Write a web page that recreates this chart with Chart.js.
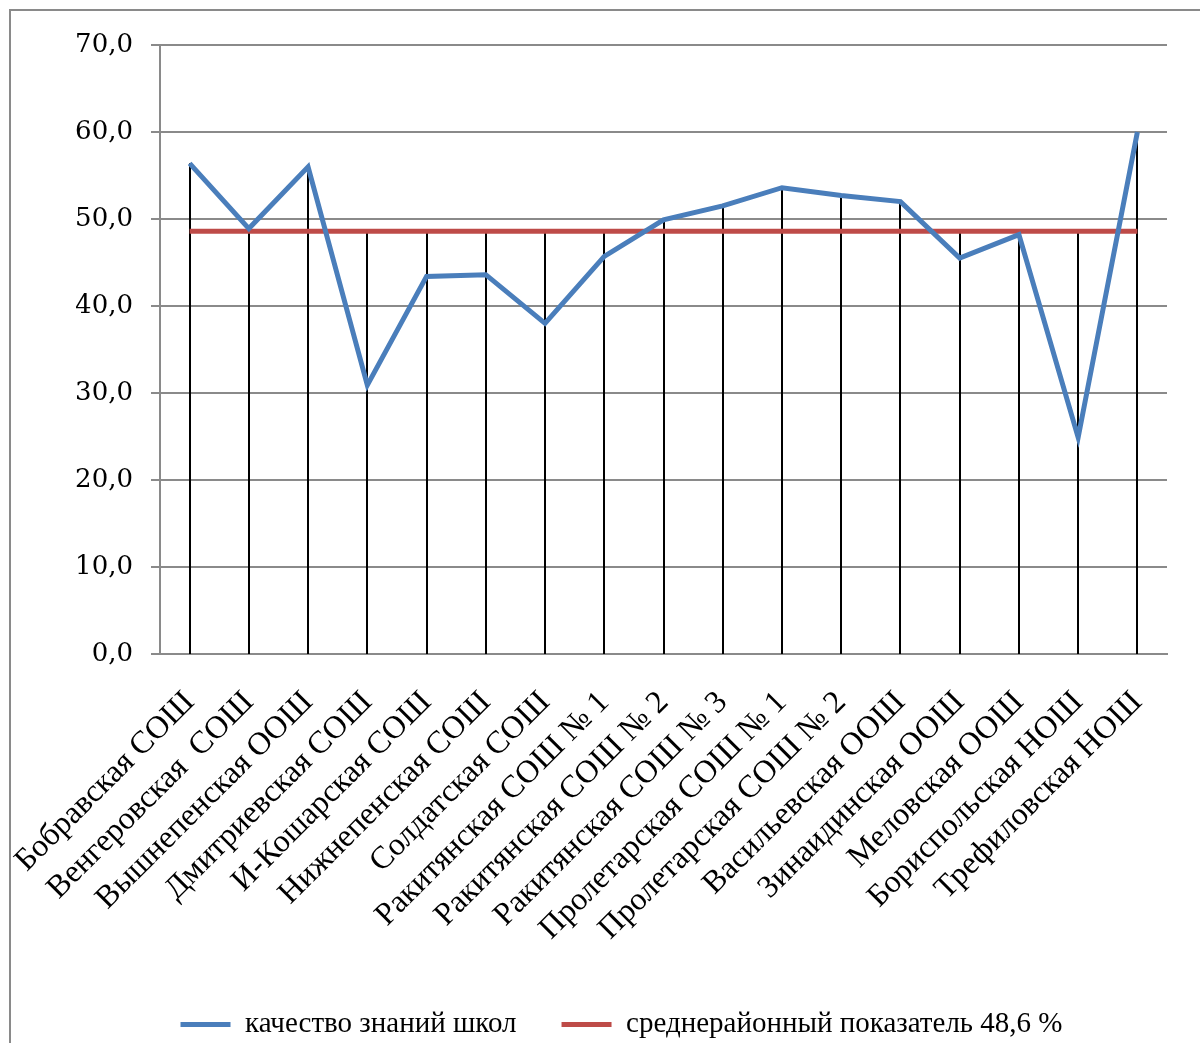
<!DOCTYPE html>
<html>
<head>
<meta charset="utf-8">
<script src="https://cdn.jsdelivr.net/npm/chart.js@4/dist/chart.umd.min.js"></script>
<style>
  html, body { margin: 0; padding: 0; background: #fff; overflow: hidden; }
  #frame { position: absolute; left: 9px; top: 9px; width: 1300px; height: 1200px; border: 2px solid #8a8a8a; }
  #wrap { position: absolute; left: 0; top: 0; width: 1200px; height: 1043px; }
</style>
</head>
<body>
<div id="frame"></div>
<div id="wrap"><canvas id="qualityChart" width="1200" height="1043"></canvas></div>
<script>
const schools = [
  'Бобравская СОШ', 'Венгеровская  СОШ', 'Вышнепенская ООШ', 'Дмитриевская СОШ',
  'И-Кошарская СОШ', 'Нижнепенская СОШ', 'Солдатская СОШ', 'Ракитянская СОШ № 1',
  'Ракитянская СОШ № 2', 'Ракитянская СОШ № 3', 'Пролетарская СОШ № 1', 'Пролетарская СОШ № 2',
  'Васильевская ООШ', 'Зинаидинская ООШ', 'Меловская ООШ', 'Бориспольская НОШ', 'Трефиловская НОШ'
];
const quality = [56.4, 48.9, 56.0, 30.9, 43.4, 43.6, 38.0, 45.7, 49.9, 51.5, 53.6, 52.7, 52.0, 45.5, 48.2, 24.9, 60.0];
const districtAvg = [48.6, 48.6, 48.6, 48.6, 48.6, 48.6, 48.6, 48.6, 48.6, 48.6, 48.6, 48.6, 48.6, 48.6, 48.6, 48.6, 48.6];
const seriesNames = ['качество знаний школ', 'среднерайонный показатель 48,6 %'];

const serif = 'Liberation Serif, Times New Roman, serif';

// black drop lines from the highest point of each category down to the axis
const dropLines = {
  id: 'dropLines',
  beforeDatasetsDraw(chart) {
    const { ctx, scales: { x, y } } = chart;
    ctx.save();
    ctx.strokeStyle = '#000';
    ctx.lineWidth = 2;
    schools.forEach((_, i) => {
      const px = Math.round(x.getPixelForValue(i));
      const top = Math.max(quality[i], districtAvg[i]);
      ctx.beginPath();
      ctx.moveTo(px, y.getPixelForValue(top));
      ctx.lineTo(px, y.getPixelForValue(0));
      ctx.stroke();
    });
    ctx.restore();
  }
};

const ctx = document.getElementById('qualityChart').getContext('2d');
new Chart(ctx, {
  type: 'line',
  data: {
    labels: schools,
    datasets: [
      {
        label: seriesNames[0],
        data: quality,
        borderColor: '#4A7EBB',
        backgroundColor: '#4A7EBB',
        borderWidth: 5,
        pointRadius: 0,
        tension: 0
      },
      {
        label: seriesNames[1],
        data: districtAvg,
        borderColor: '#BE4B48',
        backgroundColor: '#BE4B48',
        borderWidth: 5,
        pointRadius: 0,
        tension: 0
      }
    ]
  },
  options: {
    responsive: false,
    animation: false,
    layout: { padding: { top: 45, right: 33, left: 76, bottom: 0 } },
    plugins: {
      tooltip: { enabled: false },
      legend: {
        position: 'bottom',
        maxHeight: 78,
        labels: {
          padding: 45,
          boxWidth: 50,
          boxHeight: 5,
          color: '#000',
          font: { family: serif, size: 29 },
          generateLabels(chart) {
            const items = Chart.defaults.plugins.legend.labels.generateLabels(chart);
            items.forEach((it) => { it.lineWidth = 0; });
            return items;
          }
        }
      }
    },
    scales: {
      x: {
        offset: true,
        grid: { display: false, drawTicks: false },
        border: { display: true, color: '#8a8a8a', width: 2 },
        ticks: {
          autoSkip: false,
          minRotation: 45,
          maxRotation: 45,
          padding: 30,
          color: '#000',
          font: { family: serif, size: 32 }
        },
        afterFit(scale) {
          scale.height = 311;
          scale.paddingLeft = 0;
          scale.paddingRight = 0;
        }
      },
      y: {
        min: 0,
        max: 70,
        ticks: {
          stepSize: 10,
          padding: 18,
          color: '#000',
          font: { family: 'DejaVu Serif, serif', size: 26 },
          callback: (v) => v.toFixed(1).replace('.', ',')
        },
        grid: { color: '#8a8a8a', lineWidth: 2, tickLength: 9 },
        border: { color: '#8a8a8a', width: 2 },
        afterFit(scale) {
          scale.width = 84;
        }
      }
    }
  },
  plugins: [dropLines]
});
</script>
</body>
</html>
